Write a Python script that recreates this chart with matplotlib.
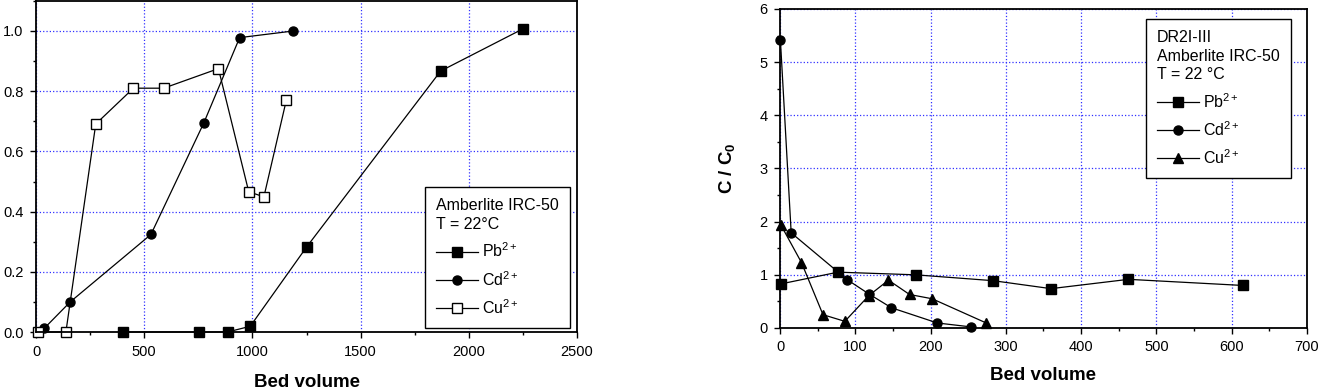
import matplotlib.pyplot as plt
from matplotlib.ticker import MultipleLocator

plt.rcParams['font.family'] = ['Liberation Sans', 'DejaVu Sans']
plt.rcParams['mathtext.fontset'] = 'custom'
plt.rcParams['mathtext.rm'] = 'Liberation Sans'
plt.rcParams['mathtext.it'] = 'Liberation Sans'
plt.rcParams['mathtext.bf'] = 'Liberation Sans:bold'

# Left panel: Amberlite IRC-50, T = 22 C
pb1_x = [400, 755, 885, 990, 1250, 1870, 2250]
pb1_y = [0.0, 0.0, 0.0, 0.019, 0.282, 0.867, 1.007]
cd1_x = [39, 158, 531, 775, 941, 1189]
cd1_y = [0.013, 0.10, 0.324, 0.694, 0.978, 1.0]
cu1_x = [8, 138, 276, 450, 590, 843, 983, 1053, 1157]
cu1_y = [0.0, 0.0, 0.691, 0.81, 0.81, 0.875, 0.466, 0.449, 0.771]

# Right panel: DR2I-III
pb2_x = [1.3, 77, 180, 283, 360, 463, 615]
pb2_y = [0.83, 1.05, 1.0, 0.89, 0.74, 0.915, 0.80]
cd2_x = [0.4, 14.7, 89, 118, 148, 209, 254]
cd2_y = [5.41, 1.79, 0.91, 0.64, 0.38, 0.094, 0.02]
cu2_x = [1.3, 28.4, 57, 86, 118, 144, 172, 202, 274]
cu2_y = [1.93, 1.23, 0.25, 0.125, 0.61, 0.90, 0.63, 0.55, 0.094]

fig = plt.figure(figsize=(13.2, 3.9), dpi=100)
ax1 = fig.add_axes([0.0273, 0.1487, 0.4098, 0.849])
ax2 = fig.add_axes([0.591, 0.159, 0.399, 0.818])


def style(ax):
    ax.grid(True, which='major', color='#3030ff', linestyle=':', linewidth=0.9)
    ax.set_axisbelow(True)
    for s in ax.spines.values():
        s.set_linewidth(1.3)
    ax.tick_params(which='both', direction='out', labelsize=10.5, colors='black')
    ax.tick_params(which='major', length=4, width=1, pad=5)
    ax.tick_params(which='minor', length=2.5, width=1)
    ax.set_xlabel('Bed volume', fontsize=13.5, fontweight='bold')


line_kw = dict(color='black', linewidth=0.9, markersize=6.5, clip_on=False)
leg_kw = dict(alignment='left', fontsize=11.5, title_fontsize=11.5, fancybox=False,
              edgecolor='black', framealpha=1, handlelength=2.6,
              handletextpad=0.3, labelspacing=0.6, borderpad=0.7,
              borderaxespad=0)

ax1.plot(pb1_x, pb1_y, marker='s', mfc='black', label='Pb$^{2+}$', **line_kw)
ax1.plot(cd1_x, cd1_y, marker='o', mfc='black', label='Cd$^{2+}$', **line_kw)
ax1.plot(cu1_x, cu1_y, marker='s', mfc='white', label='Cu$^{2+}$', **line_kw)
ax1.set_xlim(0, 2500)
ax1.set_ylim(0, 1.1)
ax1.xaxis.set_major_locator(MultipleLocator(500))
ax1.xaxis.set_minor_locator(MultipleLocator(250))
ax1.yaxis.set_minor_locator(MultipleLocator(0.1))
ax1.set_yticks([0, 0.2, 0.4, 0.6, 0.8, 1.0])
ax1.set_yticklabels(['0.0', '0.2', '0.4', '0.6', '0.8', '1.0'])
style(ax1)
ax1.xaxis.labelpad = 11
leg1 = ax1.legend(title='Amberlite IRC-50\nT = 22°C', loc='lower right',
                  bbox_to_anchor=(0.987, 0.012), **leg_kw)
leg1.get_frame().set_linewidth(1.0)
leg1.get_title().set_linespacing(1.3)

ax2.plot(pb2_x, pb2_y, marker='s', mfc='black', label='Pb$^{2+}$', **line_kw)
ax2.plot(cd2_x, cd2_y, marker='o', mfc='black', label='Cd$^{2+}$', **line_kw)
ax2.plot(cu2_x, cu2_y, marker='^', mfc='black', label='Cu$^{2+}$', **line_kw)
ax2.set_xlim(0, 700)
ax2.set_ylim(0, 6)
ax2.xaxis.set_major_locator(MultipleLocator(100))
ax2.xaxis.set_minor_locator(MultipleLocator(50))
ax2.yaxis.set_major_locator(MultipleLocator(1))
ax2.yaxis.set_minor_locator(MultipleLocator(0.5))
style(ax2)
ax2.xaxis.labelpad = 9
ax2.set_ylabel('C / C$_\\mathbf{0}$', fontsize=13.5, fontweight='bold', labelpad=16)
leg2 = ax2.legend(title='DR2I-III\nAmberlite IRC-50\nT = 22 °C', loc='upper right',
                  bbox_to_anchor=(0.970, 0.969), **leg_kw)
leg2.get_frame().set_linewidth(1.0)
leg2.get_title().set_linespacing(1.3)

fig.savefig('out.png', dpi=100)
